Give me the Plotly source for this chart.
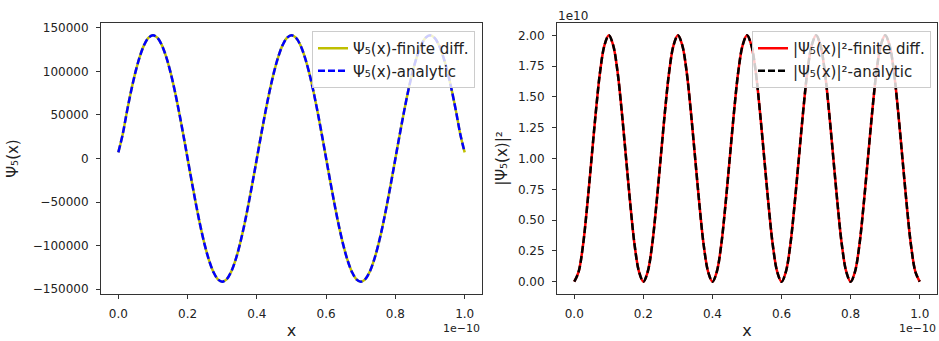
import plotly.graph_objects as go
from plotly.subplots import make_subplots

# x positions in units of 1e-10 (step 0.0125)
x_vals = [round(0.0125 * i, 4) for i in range(81)]

# Psi_5(x)
psi_vals = [
    7000, 27600, 54100, 78600, 100000, 117600, 130700, 138700, 141400, 138700, 130700, 117600, 100000, 78600, 54100, 27600,
    0, -27600, -54100, -78600, -100000, -117600, -130700, -138700, -141400, -138700, -130700, -117600, -100000, -78600, -54100, -27600,
    0, 27600, 54100, 78600, 100000, 117600, 130700, 138700, 141400, 138700, 130700, 117600, 100000, 78600, 54100, 27600,
    0, -27600, -54100, -78600, -100000, -117600, -130700, -138700, -141400, -138700, -130700, -117600, -100000, -78600, -54100, -27600,
    0, 27600, 54100, 78600, 100000, 117600, 130700, 138700, 141400, 138700, 130700, 117600, 100000, 78600, 54100, 27600,
    7000,
]

# |Psi_5(x)|^2, in units of 1e10
prob_vals = [
    0.00, 0.08, 0.29, 0.62, 1.00, 1.38, 1.71, 1.92, 2.00, 1.92, 1.71, 1.38, 1.00, 0.62, 0.29, 0.08,
    0.00, 0.08, 0.29, 0.62, 1.00, 1.38, 1.71, 1.92, 2.00, 1.92, 1.71, 1.38, 1.00, 0.62, 0.29, 0.08,
    0.00, 0.08, 0.29, 0.62, 1.00, 1.38, 1.71, 1.92, 2.00, 1.92, 1.71, 1.38, 1.00, 0.62, 0.29, 0.08,
    0.00, 0.08, 0.29, 0.62, 1.00, 1.38, 1.71, 1.92, 2.00, 1.92, 1.71, 1.38, 1.00, 0.62, 0.29, 0.08,
    0.00, 0.08, 0.29, 0.62, 1.00, 1.38, 1.71, 1.92, 2.00, 1.92, 1.71, 1.38, 1.00, 0.62, 0.29, 0.08,
    0.00,
]

x_ticks = [0.0, 0.2, 0.4, 0.6, 0.8, 1.0]
psi_ticks = [-150000, -100000, -50000, 0, 50000, 100000, 150000]
prob_ticks = [0.0, 0.25, 0.5, 0.75, 1.0, 1.25, 1.5, 1.75, 2.0]

W, H = 939, 341
FONT = "DejaVu Sans"
TXT = "#222222"

fig = make_subplots(rows=1, cols=2)

lw = 2.5
fig.add_trace(go.Scatter(x=x_vals, y=psi_vals, mode="lines", line=dict(color="#bfbf00", width=lw, shape="spline"),
                         name="Ψ₅(x)-finite diff.", legend="legend"), row=1, col=1)
fig.add_trace(go.Scatter(x=x_vals, y=psi_vals, mode="lines", line=dict(color="#0000ff", width=lw, dash="7px,3px", shape="spline"),
                         name="Ψ₅(x)-analytic", legend="legend"), row=1, col=1)
fig.add_trace(go.Scatter(x=x_vals, y=prob_vals, mode="lines", line=dict(color="#ff0000", width=lw, shape="spline"),
                         name="|Ψ₅(x)|²-finite diff.", legend="legend2"), row=1, col=2)
fig.add_trace(go.Scatter(x=x_vals, y=prob_vals, mode="lines", line=dict(color="#000000", width=lw, dash="7px,3px", shape="spline"),
                         name="|Ψ₅(x)|²-analytic", legend="legend2"), row=1, col=2)

top, bot = 23, 294
ydom = [1 - bot / H, 1 - top / H]
xd1 = [101 / W, 482 / W]
xd2 = [557 / W, 937 / W]

axis_common = dict(showline=True, linecolor="#333333", linewidth=1, mirror=True, ticks="outside",
                   ticklen=4, tickcolor="#333333", showgrid=False, zeroline=False, automargin=False,
                   tickfont=dict(family=FONT, size=12, color=TXT))

fig.update_xaxes(**axis_common, ticklabelstandoff=5)
fig.update_yaxes(**axis_common, ticklabelstandoff=5)

fig.update_layout(
    xaxis=dict(domain=xd1, range=[-0.05, 1.05], tickvals=x_ticks, tickformat=".1f",
               title=dict(text="x", font=dict(family=FONT, size=16, color=TXT), standoff=4)),
    yaxis=dict(domain=ydom, range=[-155563, 155563], tickvals=psi_ticks, tickformat="d",
               title=dict(text="Ψ₅(x)", font=dict(family=FONT, size=15, color=TXT), standoff=10)),
    xaxis2=dict(domain=xd2, range=[-0.05, 1.05], tickvals=x_ticks, tickformat=".1f",
                title=dict(text="x", font=dict(family=FONT, size=16, color=TXT), standoff=4)),
    yaxis2=dict(domain=ydom, range=[-0.1, 2.1], tickvals=prob_ticks, tickformat=".2f",
                title=dict(text="|Ψ₅(x)|²", font=dict(family=FONT, size=15, color=TXT), standoff=6)),
    legend=dict(x=475 / W, y=1 - 31 / H, xanchor="right", yanchor="top",
                bgcolor="rgba(255,255,255,0.8)", bordercolor="#cccccc", borderwidth=1,
                font=dict(family=FONT, size=15, color=TXT), tracegroupgap=0),
    legend2=dict(x=931 / W, y=1 - 31 / H, xanchor="right", yanchor="top",
                 bgcolor="rgba(255,255,255,0.8)", bordercolor="#cccccc", borderwidth=1,
                 font=dict(family=FONT, size=15, color=TXT), tracegroupgap=0),
    width=W, height=H,
    margin=dict(l=0, r=0, t=0, b=0),
    paper_bgcolor="white", plot_bgcolor="white",
    font=dict(family=FONT, color=TXT),
    annotations=[
        dict(text="1e−10", xref="paper", yref="paper", x=481 / W, y=1 - 328 / H, xanchor="right", yanchor="middle",
             showarrow=False, font=dict(family=FONT, size=11, color=TXT), borderpad=0),
        dict(text="1e−10", xref="paper", yref="paper", x=937 / W, y=1 - 328 / H, xanchor="right", yanchor="middle",
             showarrow=False, font=dict(family=FONT, size=11, color=TXT), borderpad=0),
        dict(text="1e10", xref="paper", yref="paper", x=556 / W, y=1 - 16 / H, xanchor="left", yanchor="middle",
             showarrow=False, font=dict(family=FONT, size=12, color=TXT)),
    ],
)

fig.write_html("out.html", config={"displayModeBar": False},
               post_script="document.body.style.margin='0';document.body.style.padding='0';document.body.style.overflow='hidden';")
